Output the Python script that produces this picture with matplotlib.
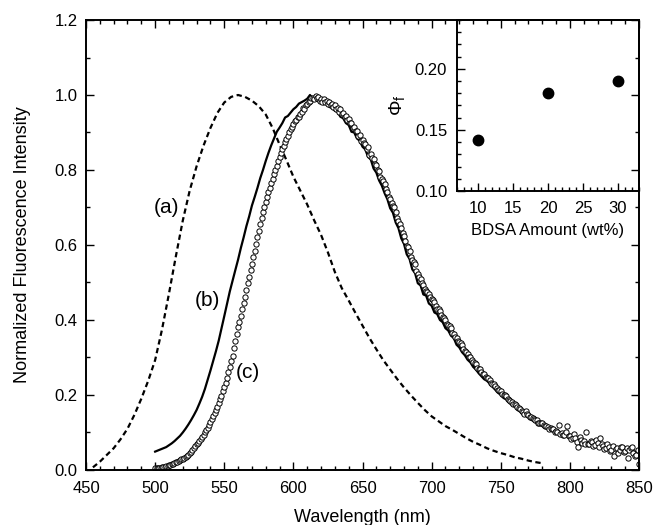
import numpy as np
import matplotlib
matplotlib.use('Agg')
import matplotlib.pyplot as plt
from matplotlib.ticker import MultipleLocator

plt.rcParams['font.family'] = ['Liberation Sans', 'DejaVu Sans']
plt.rcParams['mathtext.fontset'] = 'custom'
plt.rcParams['mathtext.rm'] = 'Liberation Sans'
plt.rcParams['mathtext.it'] = 'Liberation Sans'

# curve (a): dashed, 5 nm step
wl_a = np.arange(455, 781, 5)
int_a = [0.007, 0.022, 0.040, 0.058, 0.082, 0.110, 0.147, 0.190, 0.238, 0.293,
         0.375, 0.470, 0.570, 0.665, 0.745, 0.810, 0.865, 0.912, 0.952, 0.980,
         0.995, 1.000, 0.995, 0.985, 0.970, 0.948, 0.912, 0.868, 0.826, 0.782,
         0.745, 0.708, 0.666, 0.627, 0.580, 0.528, 0.485, 0.452, 0.418, 0.385,
         0.352, 0.322, 0.293, 0.268, 0.243, 0.220, 0.199, 0.179, 0.160, 0.143,
         0.130, 0.117, 0.107, 0.096, 0.085, 0.075, 0.067, 0.058, 0.051, 0.045,
         0.040, 0.034, 0.030, 0.025, 0.021, 0.018]

# curve (b): solid, 2 nm step
wl_b = np.arange(500, 851, 2)
int_b = [0.049, 0.052, 0.055, 0.058, 0.061, 0.066, 0.071, 0.077, 0.084, 0.091,
         0.100, 0.110, 0.121, 0.133, 0.146, 0.160, 0.177, 0.195, 0.216, 0.240,
         0.265, 0.291, 0.317, 0.345, 0.377, 0.410, 0.443, 0.476, 0.505, 0.533,
         0.561, 0.592, 0.620, 0.650, 0.676, 0.705, 0.728, 0.752, 0.778, 0.800,
         0.824, 0.846, 0.866, 0.884, 0.902, 0.913, 0.925, 0.940, 0.944, 0.953,
         0.962, 0.968, 0.977, 0.981, 0.985, 0.990, 1.000, 0.990, 0.987, 0.983,
         0.980, 0.975, 0.978, 0.968, 0.966, 0.958, 0.955, 0.942, 0.938, 0.925,
         0.920, 0.902, 0.900, 0.884, 0.878, 0.862, 0.855, 0.835, 0.828, 0.804,
         0.793, 0.772, 0.758, 0.738, 0.722, 0.698, 0.686, 0.660, 0.645, 0.618,
         0.603, 0.575, 0.563, 0.535, 0.525, 0.498, 0.492, 0.468, 0.465, 0.444,
         0.438, 0.420, 0.416, 0.400, 0.394, 0.378, 0.372, 0.358, 0.352, 0.334,
         0.327, 0.314, 0.306, 0.294, 0.287, 0.275, 0.268, 0.258, 0.250, 0.242,
         0.238, 0.230, 0.222, 0.214, 0.206, 0.200, 0.192, 0.188, 0.181, 0.172,
         0.170, 0.160, 0.156, 0.147, 0.145, 0.140, 0.134, 0.130, 0.124, 0.122,
         0.117, 0.116, 0.110, 0.108, 0.105, 0.104, 0.098, 0.097, 0.092, 0.091,
         0.087, 0.086, 0.081, 0.084, 0.076, 0.078, 0.072, 0.075, 0.068, 0.070,
         0.066, 0.064, 0.067, 0.060, 0.062, 0.057, 0.060, 0.055, 0.058, 0.052,
         0.061, 0.054, 0.052, 0.050, 0.048, 0.050]

# curve (c): open circles, 1 nm step
wl_c = np.arange(500, 851, 1)
int_c = [0.004, 0.004, 0.005, 0.005, 0.006, 0.007, 0.008, 0.009, 0.010, 0.011,
         0.013, 0.014, 0.016, 0.017, 0.019, 0.020, 0.022, 0.024, 0.026, 0.028,
         0.030, 0.032, 0.035, 0.038, 0.041, 0.045, 0.049, 0.053, 0.058, 0.063,
         0.068, 0.073, 0.078, 0.083, 0.089, 0.094, 0.100, 0.106, 0.112, 0.119,
         0.127, 0.135, 0.143, 0.151, 0.160, 0.169, 0.178, 0.188, 0.198, 0.210,
         0.222, 0.233, 0.245, 0.260, 0.275, 0.290, 0.305, 0.324, 0.343, 0.362,
         0.380, 0.395, 0.410, 0.428, 0.445, 0.462, 0.480, 0.498, 0.515, 0.532,
         0.550, 0.568, 0.585, 0.603, 0.620, 0.638, 0.655, 0.672, 0.688, 0.702,
         0.715, 0.728, 0.740, 0.753, 0.765, 0.777, 0.788, 0.800, 0.810, 0.823,
         0.835, 0.845, 0.855, 0.865, 0.875, 0.883, 0.890, 0.900, 0.908, 0.915,
         0.922, 0.930, 0.932, 0.940, 0.942, 0.950, 0.955, 0.965, 0.962, 0.972,
         0.975, 0.982, 0.985, 0.992, 0.993, 0.990, 0.998, 0.992, 0.995, 0.985,
         0.990, 0.982, 0.988, 0.980, 0.985, 0.975, 0.980, 0.972, 0.976, 0.968,
         0.972, 0.962, 0.966, 0.955, 0.962, 0.950, 0.952, 0.940, 0.944, 0.932,
         0.935, 0.926, 0.924, 0.912, 0.915, 0.905, 0.903, 0.890, 0.893, 0.878,
         0.880, 0.872, 0.868, 0.855, 0.860, 0.840, 0.842, 0.832, 0.828, 0.815,
         0.812, 0.800, 0.797, 0.782, 0.775, 0.770, 0.762, 0.748, 0.742, 0.728,
         0.722, 0.712, 0.705, 0.700, 0.688, 0.672, 0.664, 0.655, 0.645, 0.632,
         0.625, 0.610, 0.598, 0.595, 0.585, 0.568, 0.560, 0.555, 0.548, 0.530,
         0.522, 0.515, 0.508, 0.498, 0.494, 0.482, 0.478, 0.475, 0.470, 0.460,
         0.455, 0.452, 0.448, 0.436, 0.430, 0.428, 0.424, 0.412, 0.408, 0.405,
         0.400, 0.390, 0.386, 0.384, 0.378, 0.366, 0.362, 0.355, 0.352, 0.345,
         0.340, 0.338, 0.332, 0.322, 0.318, 0.315, 0.310, 0.302, 0.300, 0.292,
         0.288, 0.286, 0.282, 0.272, 0.270, 0.268, 0.262, 0.256, 0.255, 0.248,
         0.245, 0.244, 0.240, 0.232, 0.230, 0.228, 0.225, 0.218, 0.214, 0.212,
         0.210, 0.202, 0.200, 0.199, 0.196, 0.188, 0.186, 0.185, 0.182, 0.176,
         0.176, 0.172, 0.168, 0.164, 0.162, 0.158, 0.155, 0.150, 0.158, 0.148,
         0.146, 0.142, 0.140, 0.138, 0.136, 0.134, 0.132, 0.126, 0.126, 0.124,
         0.124, 0.120, 0.118, 0.116, 0.114, 0.108, 0.112, 0.110, 0.108, 0.100,
         0.104, 0.102, 0.120, 0.096, 0.098, 0.092, 0.094, 0.100, 0.118, 0.090,
         0.090, 0.082, 0.084, 0.096, 0.086, 0.074, 0.060, 0.088, 0.080, 0.072,
         0.076, 0.070, 0.102, 0.068, 0.070, 0.078, 0.074, 0.064, 0.066, 0.080,
         0.072, 0.060, 0.085, 0.070, 0.064, 0.056, 0.058, 0.068, 0.062, 0.050,
         0.052, 0.064, 0.036, 0.056, 0.058, 0.044, 0.054, 0.062, 0.060, 0.048,
         0.050, 0.058, 0.032, 0.052, 0.058, 0.062, 0.046, 0.038, 0.040, 0.054,
         0.016]

# inset: quantum yield
bdsa = [10, 20, 30]
phi_f = [0.142, 0.180, 0.190]

fig = plt.figure(figsize=(6.53, 5.25), dpi=100)
ax = fig.add_axes([0.1317, 0.1048, 0.8469, 0.8571])

ax.plot(wl_a, int_a, color='black', lw=1.6, ls=(0, (2.4, 1.6)))
ax.plot(wl_b, int_b, color='black', lw=1.6)
ax.plot(wl_c, int_c, ls='none', marker='o', ms=3.8, mfc='white',
        mec='black', mew=0.7)

ax.text(508, 0.70, '(a)', fontsize=15, ha='center', va='center')
ax.text(538, 0.453, '(b)', fontsize=15, ha='center', va='center')
ax.text(567, 0.259, '(c)', fontsize=15, ha='center', va='center')

ax.set_xlim(450, 850)
ax.set_ylim(0, 1.2)
ax.xaxis.set_major_locator(MultipleLocator(50))
ax.xaxis.set_minor_locator(MultipleLocator(10))
ax.yaxis.set_major_locator(MultipleLocator(0.2))
ax.yaxis.set_minor_locator(MultipleLocator(0.1))
ax.yaxis.set_major_formatter(plt.FormatStrFormatter('%.1f'))
ax.tick_params(which='both', direction='in', top=True, right=True,
               width=1.0, labelsize=12)
ax.tick_params(which='major', length=6)
ax.tick_params(which='minor', length=3)
ax.tick_params(axis='x', pad=8)
ax.tick_params(axis='y', pad=6)
for s in ax.spines.values():
    s.set_linewidth(1.4)
ax.set_xlabel('Wavelength (nm)', fontsize=13, labelpad=9)
ax.set_ylabel('Normalized Fluorescence Intensity', fontsize=13, labelpad=17)

ins = fig.add_axes([0.6998, 0.6362, 0.2788, 0.3257])
ins.patch.set_alpha(0)
ins.plot(bdsa, phi_f, ls='none', marker='o', ms=7.5, color='black')
ins.set_xlim(7, 33)
ins.set_ylim(0.10, 0.24)
ins.xaxis.set_major_locator(MultipleLocator(5))
ins.xaxis.set_minor_locator(MultipleLocator(1))
ins.yaxis.set_major_locator(MultipleLocator(0.05))
ins.yaxis.set_minor_locator(MultipleLocator(0.01))
ins.yaxis.set_major_formatter(plt.FormatStrFormatter('%.2f'))
ins.set_xticks([10, 15, 20, 25, 30])
ins.tick_params(which='both', direction='in', top=False, right=False,
                width=1.0, labelsize=12)
ins.tick_params(which='major', length=6)
ins.tick_params(which='minor', length=3)
ins.tick_params(axis='x', pad=7)
ins.tick_params(axis='y', pad=7)
for s in ins.spines.values():
    s.set_linewidth(1.4)
ins.set_xlabel('BDSA Amount (wt%)', fontsize=12, labelpad=5)
ins.set_ylabel(r'$\Phi_\mathrm{f}$', fontsize=14, labelpad=6)

fig.savefig('out.png', dpi=100)
